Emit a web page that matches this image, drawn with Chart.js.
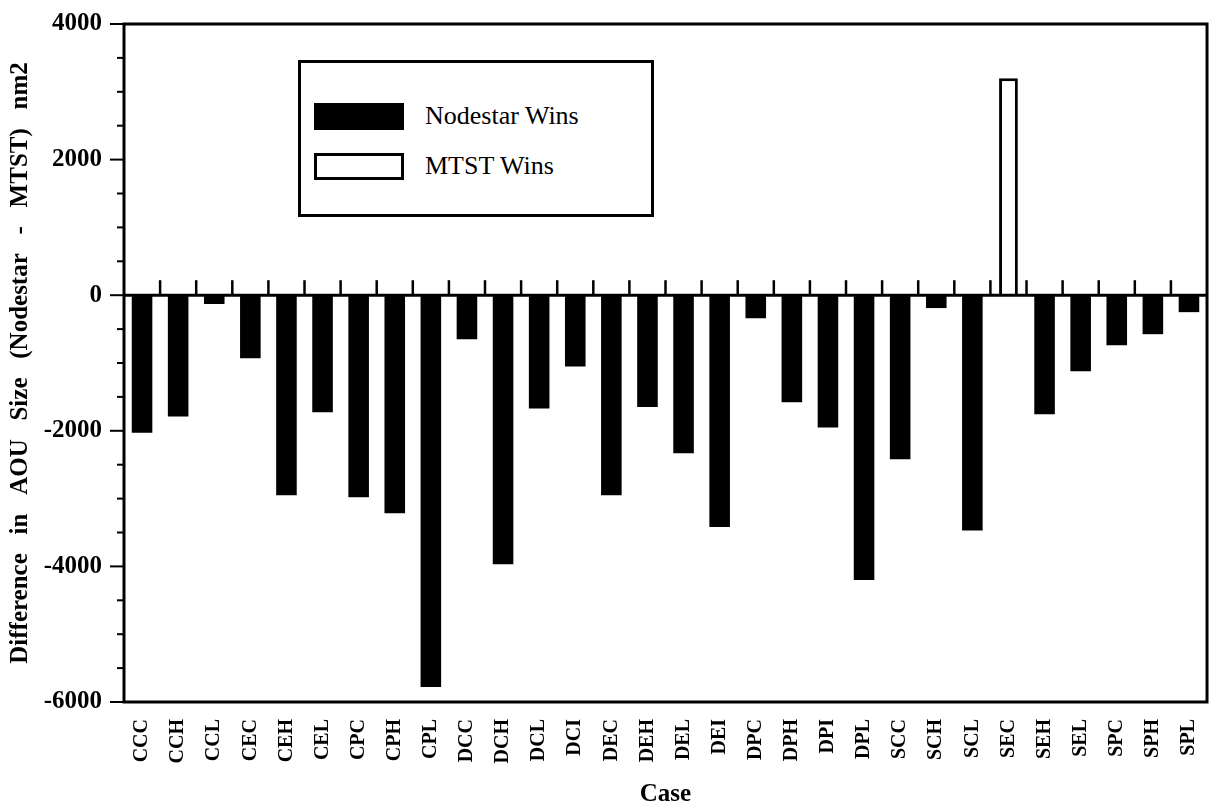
<!DOCTYPE html>
<html>
<head>
<meta charset="utf-8">
<script src="https://cdn.jsdelivr.net/npm/chart.js@4"></script>
<style>
  html, body { margin: 0; padding: 0; background: #fff; }
  #wrap { position: relative; width: 1230px; height: 812px; }
  #legend {
    position: absolute; left: 298px; top: 60px; width: 350px; height: 151px;
    border: 3px solid #000; background: #fff;
    font-family: "Liberation Serif", "Times New Roman", serif; font-size: 26px; color: #000;
  }
  .item { position: absolute; left: 13px; display: flex; align-items: center; }
  .sw { display: inline-block; width: 90px; height: 27px; box-sizing: border-box; margin-right: 21px; }
</style>
</head>
<body>
<div id="wrap">
  <canvas id="aou_chart" width="1230" height="812"></canvas>
  <div id="legend"></div>
</div>
<script>
const cases = ['CCC', 'CCH', 'CCL', 'CEC', 'CEH', 'CEL', 'CPC', 'CPH', 'CPL', 'DCC',
               'DCH', 'DCL', 'DCI', 'DEC', 'DEH', 'DEL', 'DEI', 'DPC', 'DPH', 'DPI',
               'DPL', 'SCC', 'SCH', 'SCL', 'SEC', 'SEH', 'SEL', 'SPC', 'SPH', 'SPL'];
// difference in AOU size (Nodestar - MTST), nm2
const diffValues = [-2030, -1790, -130, -930, -2950, -1725, -2980, -3215, -5780, -650,
                    -3970, -1670, -1050, -2950, -1650, -2330, -3420, -340, -1580, -1950,
                    -4200, -2420, -190, -3470, 3200, -1755, -1120, -740, -575, -250];
const seriesNames = ['Nodestar Wins', 'MTST Wins'];
const yTicks = [-6000, -4000, -2000, 0, 2000, 4000];

const serif = '"Liberation Serif", "Times New Roman", serif';

const nodestarWins = diffValues.map(v => v < 0 ? v : null);
const mtstWins = diffValues.map(v => v > 0 ? v : null);

// frame, zero line with its ticks, and minor y ticks
const framePlugin = {
  id: 'frame',
  afterDraw(chart) {
    const { ctx, chartArea: a, scales: { x, y } } = chart;
    ctx.save();
    ctx.strokeStyle = '#000';
    ctx.lineWidth = 3;
    ctx.strokeRect(a.left, a.top, a.right - a.left, a.bottom - a.top);

    const y0 = y.getPixelForValue(0);
    ctx.beginPath();
    ctx.moveTo(a.left, y0);
    ctx.lineTo(a.right, y0);
    ctx.stroke();

    ctx.lineWidth = 2.5;
    for (let i = 0; i < cases.length - 1; i++) {
      const xm = (x.getPixelForValue(i) + x.getPixelForValue(i + 1)) / 2;
      ctx.beginPath();
      ctx.moveTo(xm, y0);
      ctx.lineTo(xm, y0 - 15);
      ctx.stroke();
    }

    ctx.lineWidth = 2;
    for (let v = y.min; v <= y.max; v += 500) {
      const yp = y.getPixelForValue(v);
      const len = yTicks.includes(v) ? 14 : 7;
      ctx.beginPath();
      ctx.moveTo(a.left - len, yp);
      ctx.lineTo(a.left, yp);
      ctx.stroke();
    }
    ctx.restore();
  }
};

const ctx = document.getElementById('aou_chart').getContext('2d');
const aouChart = new Chart(ctx, {
  type: 'bar',
  data: {
    labels: cases,
    datasets: [{
      label: seriesNames[0],
      data: nodestarWins,
      backgroundColor: '#000',
      borderWidth: 0,
      barPercentage: 0.57,
      categoryPercentage: 1
    }, {
      label: seriesNames[1],
      data: mtstWins,
      backgroundColor: '#fff',
      borderColor: '#000',
      borderWidth: 3,
      barPercentage: 0.52,
      categoryPercentage: 1
    }]
  },
  options: {
    responsive: false,
    animation: false,
    layout: { padding: { top: 24, right: 2, left: 0, bottom: 0 } },
    plugins: { legend: { display: false }, tooltip: { enabled: false } },
    scales: {
      x: {
        stacked: true,
        grid: { display: false, drawTicks: false },
        border: { display: false },
        ticks: {
          autoSkip: false, minRotation: 90, maxRotation: 90, padding: 17,
          color: '#000', font: { family: serif, size: 20, weight: 'bold' }
        },
        title: {
          display: true, text: 'Case', color: '#000', padding: { top: 0, bottom: 2 },
          font: { family: serif, size: 25, weight: 'bold' }
        },
        afterFit(scale) { scale.height = 110; }
      },
      y: {
        stacked: true,
        min: -6000,
        max: 4000,
        // invisible tick marks only reserve room; the real ticks come from framePlugin
        grid: { display: true, drawOnChartArea: false, drawTicks: true, tickLength: 14, color: 'rgba(0,0,0,0)' },
        border: { display: false },
        afterBuildTicks(scale) { scale.ticks = yTicks.map(v => ({ value: v })); },
        ticks: {
          padding: 8, color: '#000',
          font: { family: serif, size: 25, weight: 'bold' },
          callback: value => String(value)
        },
        title: {
          display: true,
          text: 'Difference   in   AOU   Size   (Nodestar   -   MTST)   nm2',
          color: '#000', padding: { top: 6, bottom: 0 },
          font: { family: serif, size: 25, weight: 'bold' }
        },
        afterFit(scale) { scale.width = 124; }
      }
    }
  },
  plugins: [framePlugin]
});

const legendBox = document.getElementById('legend');
legendBox.innerHTML = `
  <div class="item" style="top:38px"><span class="sw" style="background:#000"></span>${seriesNames[0]}</div>
  <div class="item" style="top:88px"><span class="sw" style="background:#fff;border:3px solid #000"></span>${seriesNames[1]}</div>
`;
</script>
</body>
</html>
